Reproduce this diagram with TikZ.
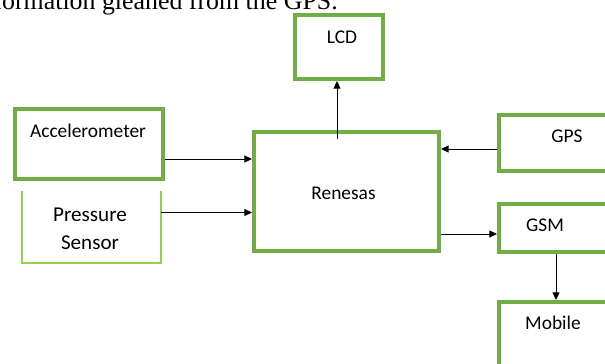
\documentclass[tikz,border=0pt]{standalone}
\usepackage{fontspec}
\setmainfont{Carlito}
\newfontfamily\bodyfont{Liberation Serif}
\usetikzlibrary{arrows.meta}
\definecolor{boxgreen}{RGB}{112,173,71}
\definecolor{lightgreen}{RGB}{146,208,80}

\begin{document}
\begin{tikzpicture}[
  x=0.025cm, y=-0.025cm,
  blk/.style={rectangle, draw=boxgreen, line width=2.8pt, inner sep=0pt},
  lbl/.style={inner sep=0pt, font=\fontsize{13.8pt}{16pt}\selectfont},
  arr/.style={-{Triangle[length=5.5pt, width=5pt]}, line width=0.7pt, black}
]
  \useasboundingbox (0,0) rectangle (605,363);

  % Trozo del texto del documento (cortado arriba)
  \node[anchor=base east, inner sep=0pt, font=\bodyfont\fontsize{18.4pt}{20pt}\selectfont] (caption) at (338,9) {formation gleaned from the GPS.};

  % Bloques
  \node[blk, minimum width=2.2cm, minimum height=1.6cm] (lcd) at (339,47) {};
  \node[blk, minimum width=3.7cm, minimum height=1.75cm] (acc) at (89,144) {};
  \node[blk, minimum width=4.625cm, minimum height=2.975cm] (ren) at (346.5,191.5) {};
  \node[blk, minimum width=3.15cm, minimum height=1.4cm] (gps) at (562,143) {};
  \node[blk, minimum width=3.15cm, minimum height=1.2cm] (gsm) at (562,228) {};
  \node[blk, minimum width=3.15cm, minimum height=2.45cm] (mob) at (562,351) {};

  % Sensor de presion: sin borde superior
  \node[inner sep=0pt, minimum width=3.475cm, minimum height=1.8cm] (pres) at (91.5,227) {};
  \draw[lightgreen, line width=1.5pt] (pres.north west) -- (pres.south west) -- (pres.south east) -- (pres.north east);

  % Textos
  \node[lbl] (lcdtxt) at (342,37) {LCD};
  \node[lbl] (acctxt) at (88,131) {Accelerometer};
  \node[lbl, font=\fontsize{15pt}{19.8pt}\selectfont, align=center] (prestxt) at (90,228.5) {Pressure\\Sensor};
  \node[lbl] (rentxt) at (343.5,193) {Renesas};
  \node[lbl] (gpstxt) at (567,136) {GPS};
  \node[lbl] (gsmtxt) at (545,225) {GSM};
  \node[lbl] (mobtxt) at (553,323) {Mobile};

  % Conexiones
  \coordinate (lcdfeed) at (337,139);
  \draw[arr] (acc.east |- 0,159) -- (ren.west |- 0,159);
  \draw[arr] (pres.east |- 0,212.5) -- (ren.west |- 0,212.5);
  \draw[arr] (gps.west |- 0,149) -- (ren.east |- 0,149);
  \draw[arr] (ren.east |- 0,234) -- (gsm.west |- 0,234);
  \draw[arr] (gsm.south -| 556,0) -- (mob.north -| 556,0);
  \draw[arr] (lcdfeed) -- (lcd.south -| lcdfeed);

\end{tikzpicture}
\end{document}
